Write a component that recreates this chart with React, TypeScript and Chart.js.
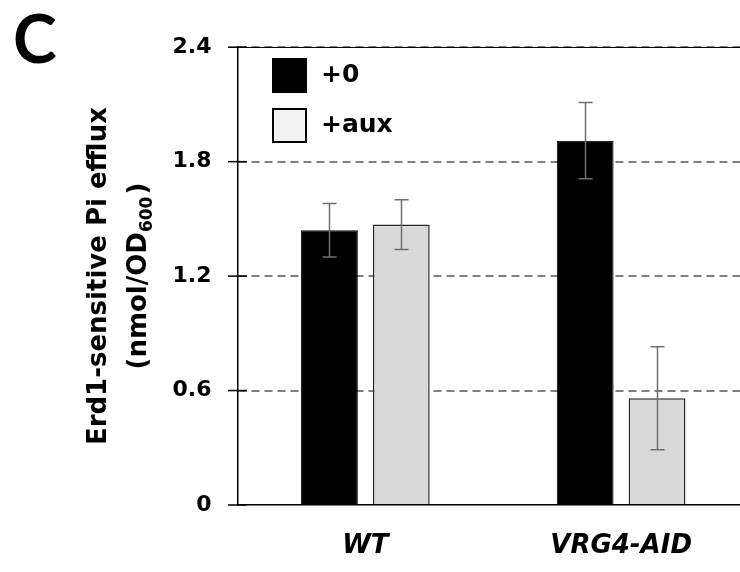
import React, { useEffect, useRef } from "react";
import { Chart, registerables } from "chart.js";

Chart.register(...registerables);

const categories = ["WT", "VRG4-AID"];
const seriesLabels = ["+0", "+aux"];
const plus0Values = [1.44, 1.91];
const plus0Errors = [0.14, 0.2];
const auxValues = [1.47, 0.56];
const auxErrors = [0.13, 0.27];
const yTicks = [0, 0.6, 1.2, 1.8, 2.4];
const yTitleLine1 = "Erd1-sensitive Pi efflux";
const yTitleLine2 = ["(nmol/OD", "600", ")"];
const panelLetter = "C";

const FONT = "'DejaVu Sans', Verdana, sans-serif";

const errorBarPlugin = {
  id: "errorBars",
  afterDatasetsDraw(chart: any) {
    const ctx = chart.ctx;
    const y = chart.scales.y;
    chart.data.datasets.forEach((ds: any, di: number) => {
      const meta = chart.getDatasetMeta(di);
      meta.data.forEach((bar: any, i: number) => {
        const v = ds.data[i];
        const e = ds.errors[i];
        const top = y.getPixelForValue(v + e);
        const bot = y.getPixelForValue(v - e);
        const x = Math.round(bar.x) + 0.5;
        ctx.save();
        ctx.strokeStyle = "#6f6f6f";
        ctx.lineWidth = 1.5;
        ctx.beginPath();
        ctx.moveTo(x, top);
        ctx.lineTo(x, bot);
        ctx.moveTo(x - 7, top);
        ctx.lineTo(x + 7, top);
        ctx.moveTo(x - 7, bot);
        ctx.lineTo(x + 7, bot);
        ctx.stroke();
        ctx.restore();
      });
    });
  },
};

const decorPlugin = {
  id: "decor",
  afterDraw(chart: any) {
    const ctx = chart.ctx;
    const area = chart.chartArea;
    const y = chart.scales.y;
    ctx.save();
    // top border line
    ctx.strokeStyle = "#000";
    ctx.lineWidth = 1;
    ctx.beginPath();
    ctx.moveTo(area.left - 9, Math.round(area.top) + 0.5);
    ctx.lineTo(area.right, Math.round(area.top) + 0.5);
    ctx.stroke();
    // crossing tick marks
    ctx.lineWidth = 1.5;
    yTicks.forEach((t) => {
      const py = y.getPixelForValue(t);
      ctx.beginPath();
      ctx.moveTo(area.left - 9.5, py);
      ctx.lineTo(area.left + 9.5, py);
      ctx.stroke();
    });

    // y title
    const cy = (area.top + area.bottom) / 2;
    ctx.fillStyle = "#000";
    ctx.textBaseline = "alphabetic";
    ctx.font = `bold 26px ${FONT}`;
    ctx.save();
    ctx.translate(98, cy);
    ctx.rotate(-Math.PI / 2);
    ctx.textAlign = "center";
    ctx.fillText(yTitleLine1, 0, 0);
    ctx.restore();

    ctx.save();
    ctx.translate(138, cy);
    ctx.rotate(-Math.PI / 2);
    ctx.textAlign = "left";
    const mainFont = `bold 26px ${FONT}`;
    const subFont = `bold 17px ${FONT}`;
    ctx.font = mainFont;
    const w1 = ctx.measureText(yTitleLine2[0]).width;
    const w3 = ctx.measureText(yTitleLine2[2]).width;
    ctx.font = subFont;
    const w2 = ctx.measureText(yTitleLine2[1]).width;
    let x0 = -(w1 + w2 + w3 + 2) / 2;
    ctx.font = mainFont;
    ctx.fillText(yTitleLine2[0], x0, 0);
    x0 += w1;
    ctx.font = subFont;
    ctx.fillText(yTitleLine2[1], x0, 6);
    x0 += w2 + 2;
    ctx.font = mainFont;
    ctx.fillText(yTitleLine2[2], x0, 0);
    ctx.restore();

    // legend
    const ds = chart.data.datasets;
    const boxes = [
      { y: 50, ds: ds[0], fill: "#000" },
      { y: 100, ds: ds[1], fill: "#f2f2f2" },
    ];
    boxes.forEach((b) => {
      ctx.fillStyle = b.fill;
      ctx.fillRect(264, b.y, 35, 35);
      ctx.strokeStyle = "#000";
      ctx.lineWidth = 2;
      ctx.strokeRect(265, b.y + 1, 33, 33);
      ctx.fillStyle = "#000";
      ctx.font = `bold 25px ${FONT}`;
      ctx.textAlign = "left";
      ctx.textBaseline = "middle";
      ctx.fillText(b.ds.label, 313, b.y + 17);
    });

    // panel letter
    ctx.font = `bold 66px Lato, 'Open Sans', sans-serif`;
    ctx.textBaseline = "alphabetic";
    ctx.textAlign = "left";
    ctx.fillText(panelLetter, 5, 55);
    ctx.restore();
  },
};

export default function App() {
  const ref = useRef<HTMLCanvasElement>(null);
  useEffect(() => {
    if (!ref.current) return;
    const chart = new Chart(ref.current, {
      type: "bar",
      data: {
        labels: categories,
        datasets: [
          {
            label: seriesLabels[0],
            data: plus0Values,
            errors: plus0Errors,
            backgroundColor: "#000",
            borderColor: "#000",
            borderWidth: 1,
          } as any,
          {
            label: seriesLabels[1],
            data: auxValues,
            errors: auxErrors,
            backgroundColor: "#d9d9d9",
            borderColor: "#262626",
            borderWidth: 1.5,
          } as any,
        ],
      },
      options: {
        responsive: false,
        animation: false,
        devicePixelRatio: 1,
        layout: { padding: { top: 36, right: 19, left: 0, bottom: 0 } },
        datasets: {
          bar: { barPercentage: 0.79, categoryPercentage: 0.562 },
        },
        plugins: {
          legend: { display: false },
          tooltip: { enabled: false },
          title: { display: false },
        },
        scales: {
          x: {
            grid: { display: false, drawTicks: false },
            border: { display: true, color: "#000", width: 1.5 },
            ticks: {
              color: "#000",
              padding: 26,
              font: { family: FONT, size: 26, weight: "bold", style: "italic" },
            },
            afterFit: (s: any) => {
              s.height = 67;
            },
          },
          y: {
            min: 0,
            max: 2.4,
            afterBuildTicks: (s: any) => {
              s.ticks = yTicks.map((v) => ({ value: v }));
            },
            grid: {
              color: (c: any) =>
                c.tick && c.tick.value === 0 ? "rgba(0,0,0,0)" : "#7f7f7f",
              lineWidth: 2,
              drawTicks: false,
            },
            border: { display: true, color: "#000", width: 1.5, dash: [8, 5] },
            ticks: {
              color: "#000",
              padding: 26,
              font: { family: FONT, size: 22, weight: "bold" },
              callback: (v: any) => (Number(v) === 0 ? "0" : Number(v).toFixed(1)),
            },
            afterFit: (s: any) => {
              s.width = 229.5;
            },
          },
        },
      },
      plugins: [errorBarPlugin, decorPlugin],
    } as any);
    return () => chart.destroy();
  }, []);
  return (
    <div
      style={{
        position: "fixed",
        left: 0,
        top: 0,
        width: 740,
        height: 572,
        overflow: "hidden",
        background: "#fff",
      }}
    >
      <canvas
        ref={ref}
        width={760}
        height={564}
        style={{ display: "block", position: "absolute", left: 8, top: 8 }}
      />
    </div>
  );
}
